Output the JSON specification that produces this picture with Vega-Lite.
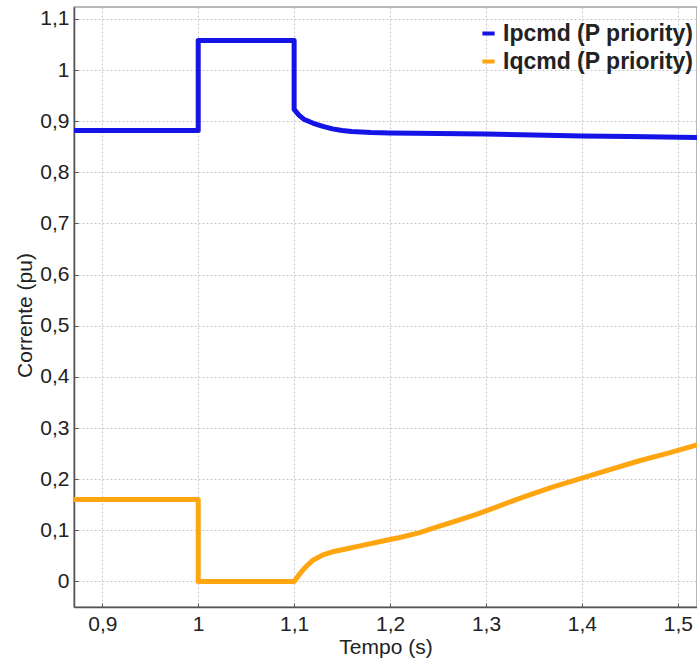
{
  "$schema": "https://vega.github.io/schema/vega-lite/v6.json",
  "width": 623,
  "height": 600,
  "autosize": {"type": "none"},
  "padding": {"left": 74, "top": 7, "right": 0, "bottom": 59},
  "background": "white",
  "config": {
    "font": "Liberation Sans",
    "view": {"stroke": "#a0a0a0", "strokeWidth": 1.5}
  },
  "data": {
    "values": [
      {"i": 1, "s": "Ipcmd (P priority)", "t": 0.87, "v": 0.882},
      {"i": 2, "s": "Ipcmd (P priority)", "t": 1.0, "v": 0.882},
      {"i": 3, "s": "Ipcmd (P priority)", "t": 1.0, "v": 1.058},
      {"i": 4, "s": "Ipcmd (P priority)", "t": 1.1, "v": 1.058},
      {"i": 5, "s": "Ipcmd (P priority)", "t": 1.1, "v": 0.923},
      {"i": 6, "s": "Ipcmd (P priority)", "t": 1.105, "v": 0.912},
      {"i": 7, "s": "Ipcmd (P priority)", "t": 1.11, "v": 0.904},
      {"i": 8, "s": "Ipcmd (P priority)", "t": 1.12, "v": 0.896},
      {"i": 9, "s": "Ipcmd (P priority)", "t": 1.13, "v": 0.89},
      {"i": 10, "s": "Ipcmd (P priority)", "t": 1.14, "v": 0.885},
      {"i": 11, "s": "Ipcmd (P priority)", "t": 1.15, "v": 0.882},
      {"i": 12, "s": "Ipcmd (P priority)", "t": 1.16, "v": 0.88},
      {"i": 13, "s": "Ipcmd (P priority)", "t": 1.18, "v": 0.878},
      {"i": 14, "s": "Ipcmd (P priority)", "t": 1.2, "v": 0.877},
      {"i": 15, "s": "Ipcmd (P priority)", "t": 1.25, "v": 0.876},
      {"i": 16, "s": "Ipcmd (P priority)", "t": 1.3, "v": 0.875},
      {"i": 17, "s": "Ipcmd (P priority)", "t": 1.35, "v": 0.873},
      {"i": 18, "s": "Ipcmd (P priority)", "t": 1.4, "v": 0.871},
      {"i": 19, "s": "Ipcmd (P priority)", "t": 1.45, "v": 0.87},
      {"i": 20, "s": "Ipcmd (P priority)", "t": 1.52, "v": 0.868},
      {"i": 1, "s": "Iqcmd (P priority)", "t": 0.87, "v": 0.16},
      {"i": 2, "s": "Iqcmd (P priority)", "t": 1.0, "v": 0.16},
      {"i": 3, "s": "Iqcmd (P priority)", "t": 1.0, "v": 0.0},
      {"i": 4, "s": "Iqcmd (P priority)", "t": 1.1, "v": 0.0},
      {"i": 5, "s": "Iqcmd (P priority)", "t": 1.104, "v": 0.01},
      {"i": 6, "s": "Iqcmd (P priority)", "t": 1.108, "v": 0.02},
      {"i": 7, "s": "Iqcmd (P priority)", "t": 1.114, "v": 0.032},
      {"i": 8, "s": "Iqcmd (P priority)", "t": 1.12, "v": 0.042},
      {"i": 9, "s": "Iqcmd (P priority)", "t": 1.13, "v": 0.052},
      {"i": 10, "s": "Iqcmd (P priority)", "t": 1.14, "v": 0.058},
      {"i": 11, "s": "Iqcmd (P priority)", "t": 1.155, "v": 0.064},
      {"i": 12, "s": "Iqcmd (P priority)", "t": 1.17, "v": 0.07},
      {"i": 13, "s": "Iqcmd (P priority)", "t": 1.19, "v": 0.078},
      {"i": 14, "s": "Iqcmd (P priority)", "t": 1.21, "v": 0.086},
      {"i": 15, "s": "Iqcmd (P priority)", "t": 1.23, "v": 0.095},
      {"i": 16, "s": "Iqcmd (P priority)", "t": 1.25, "v": 0.107},
      {"i": 17, "s": "Iqcmd (P priority)", "t": 1.27, "v": 0.119},
      {"i": 18, "s": "Iqcmd (P priority)", "t": 1.29, "v": 0.131},
      {"i": 19, "s": "Iqcmd (P priority)", "t": 1.31, "v": 0.145},
      {"i": 20, "s": "Iqcmd (P priority)", "t": 1.33, "v": 0.159},
      {"i": 21, "s": "Iqcmd (P priority)", "t": 1.35, "v": 0.172},
      {"i": 22, "s": "Iqcmd (P priority)", "t": 1.37, "v": 0.185},
      {"i": 23, "s": "Iqcmd (P priority)", "t": 1.4, "v": 0.202},
      {"i": 24, "s": "Iqcmd (P priority)", "t": 1.43, "v": 0.219},
      {"i": 25, "s": "Iqcmd (P priority)", "t": 1.46, "v": 0.236},
      {"i": 26, "s": "Iqcmd (P priority)", "t": 1.49, "v": 0.251},
      {"i": 27, "s": "Iqcmd (P priority)", "t": 1.52, "v": 0.267}
    ]
  },
  "mark": {"type": "line", "strokeWidth": 5, "strokeJoin": "round", "clip": true},
  "encoding": {
    "x": {
      "field": "t",
      "type": "quantitative",
      "scale": {"domain": [0.8705, 1.52], "nice": false, "zero": false},
      "axis": {
        "title": "Tempo (s)",
        "values": [0.9, 1.0, 1.1, 1.2, 1.3, 1.4, 1.5],
        "labelExpr": "replace(format(datum.value, ''), '.', ',')",
        "labelFontSize": 21,
        "labelColor": "#222",
        "labelPadding": 10,
        "tickSize": -4,
        "tickColor": "#555",
        "domainColor": "#555",
        "domainWidth": 1.5,
        "titleFontSize": 21,
        "titleFontWeight": "normal",
        "titleColor": "#222",
        "titlePadding": 2,
        "grid": true,
        "gridColor": "#c8c8c8",
        "gridDash": [2, 2],
        "gridWidth": 1
      }
    },
    "y": {
      "field": "v",
      "type": "quantitative",
      "scale": {"domain": [-0.05, 1.1234], "nice": false, "zero": false},
      "axis": {
        "title": "Corrente (pu)",
        "values": [0, 0.1, 0.2, 0.3, 0.4, 0.5, 0.6, 0.7, 0.8, 0.9, 1.0, 1.1],
        "labelExpr": "replace(format(datum.value, ''), '.', ',')",
        "labelFontSize": 21,
        "labelColor": "#222",
        "labelPadding": 9,
        "tickSize": -4,
        "tickColor": "#555",
        "domainColor": "#555",
        "domainWidth": 1.5,
        "titleFontSize": 21,
        "titleFontWeight": "normal",
        "titleColor": "#222",
        "titleX": -49,
        "titleY": 308,
        "titleAngle": -90,
        "titleAlign": "center",
        "titleBaseline": "middle",
        "grid": true,
        "gridColor": "#c8c8c8",
        "gridDash": [2, 2],
        "gridWidth": 1
      }
    },
    "color": {
      "field": "s",
      "type": "nominal",
      "scale": {
        "domain": ["Ipcmd (P priority)", "Iqcmd (P priority)"],
        "range": ["#1414e6", "#ffa50f"]
      },
      "legend": {
        "title": null,
        "orient": "none",
        "legendX": 403,
        "legendY": 15,
        "padding": 0,
        "symbolType": "stroke",
        "symbolSize": 150,
        "symbolStrokeWidth": 4,
        "labelFontSize": 23,
        "labelFontWeight": "bold",
        "labelColor": "#222",
        "labelLimit": 0,
        "labelOffset": 3,
        "rowPadding": 4
      }
    },
    "order": {"field": "i", "type": "quantitative"}
  }
}
